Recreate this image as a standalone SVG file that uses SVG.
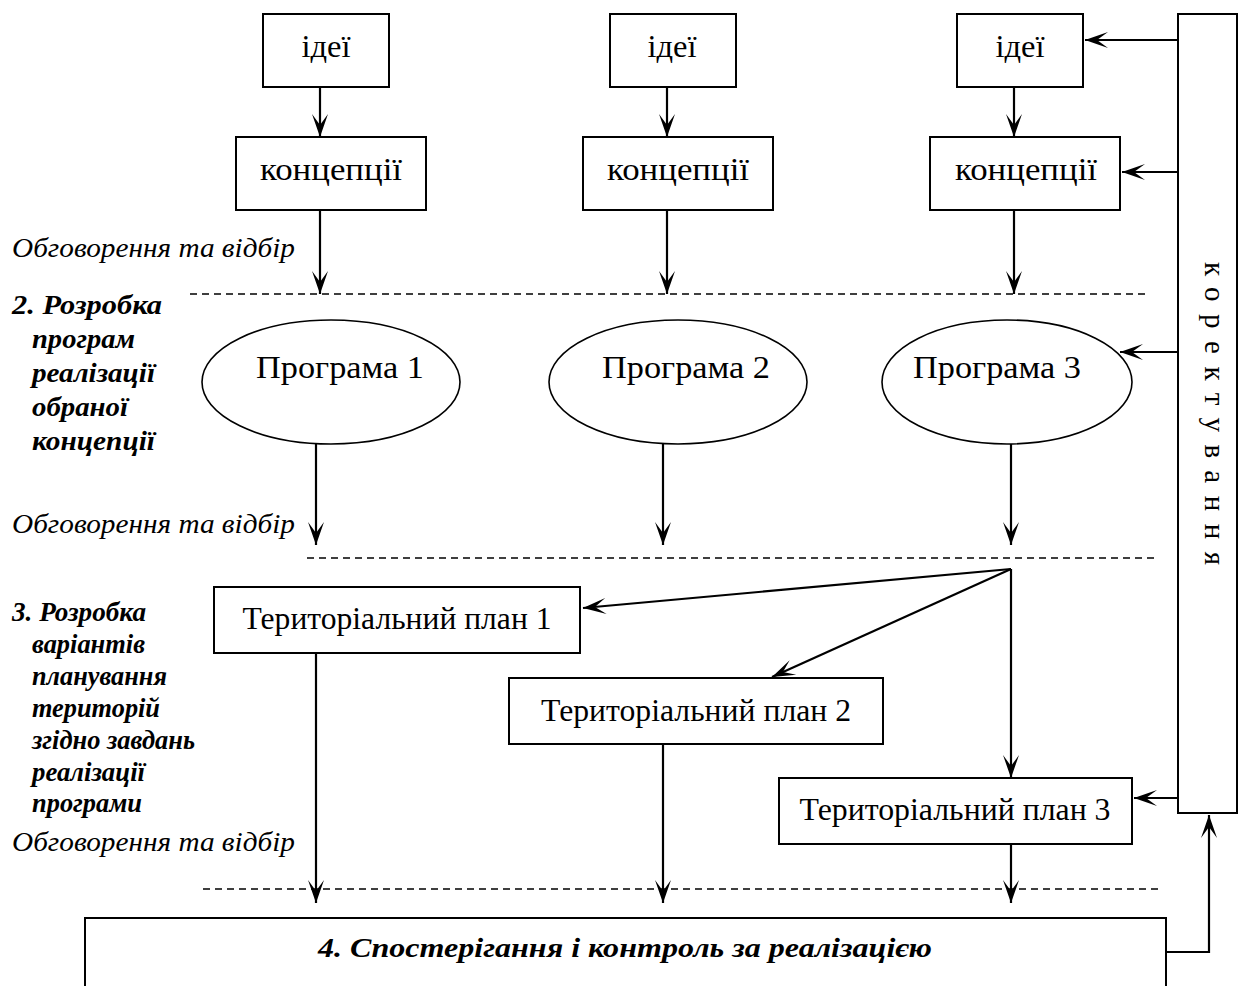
<svg xmlns="http://www.w3.org/2000/svg" width="1243" height="986" viewBox="0 0 1243 986">
<style>
.box{fill:#fff;stroke:#000;stroke-width:2}
.ell{fill:#fff;stroke:#000;stroke-width:1.6}
.t{font-family:"Liberation Serif","Times New Roman",serif;font-size:32px;fill:#000;text-anchor:middle}
.lab{font-family:"Liberation Serif","Times New Roman",serif;font-size:28px;font-style:italic;fill:#000}
.bl{font-family:"Liberation Serif","Times New Roman",serif;font-size:28px;font-style:italic;font-weight:bold;fill:#000}
.bl3{font-size:27px}
.con{fill:none;stroke:#000;stroke-width:2.2;marker-end:url(#ah)}
.dash{fill:none;stroke:#000;stroke-width:1.5;stroke-dasharray:7 5}
</style>
<defs>
<marker id="ah" markerUnits="userSpaceOnUse" viewBox="-24 -9 26 18" refX="0" refY="0" markerWidth="26" markerHeight="18" orient="auto">
<path d="M0,0 L-23,-8 L-12,0 L-23,8 Z" fill="#000"/>
</marker>
</defs>

<g id="labels">
<text class="lab" x="12" y="257" textLength="283" lengthAdjust="spacingAndGlyphs">Обговорення та відбір</text>
<text class="lab" x="12" y="533" textLength="283" lengthAdjust="spacingAndGlyphs">Обговорення та відбір</text>
<text class="lab" x="12" y="851" textLength="283" lengthAdjust="spacingAndGlyphs">Обговорення та відбір</text>
<text class="bl" x="12" y="314" textLength="150" lengthAdjust="spacingAndGlyphs">2. Розробка</text>
<text class="bl" x="32" y="348" textLength="103" lengthAdjust="spacingAndGlyphs">програм</text>
<text class="bl" x="32" y="382" textLength="123" lengthAdjust="spacingAndGlyphs">реалізації</text>
<text class="bl" x="32" y="416" textLength="96" lengthAdjust="spacingAndGlyphs">обраної</text>
<text class="bl" x="32" y="450" textLength="123" lengthAdjust="spacingAndGlyphs">концепції</text>
<text class="bl bl3" x="12" y="621" textLength="134" lengthAdjust="spacingAndGlyphs">3. Розробка</text>
<text class="bl bl3" x="32" y="653" textLength="113" lengthAdjust="spacingAndGlyphs">варіантів</text>
<text class="bl bl3" x="32" y="685" textLength="135" lengthAdjust="spacingAndGlyphs">планування</text>
<text class="bl bl3" x="32" y="717" textLength="128" lengthAdjust="spacingAndGlyphs">територій</text>
<text class="bl bl3" x="32" y="749" textLength="163" lengthAdjust="spacingAndGlyphs">згідно завдань</text>
<text class="bl bl3" x="32" y="781" textLength="113" lengthAdjust="spacingAndGlyphs">реалізації</text>
<text class="bl bl3" x="32" y="812" textLength="110" lengthAdjust="spacingAndGlyphs">програми</text>
</g>

<g id="separators">
<line class="dash" x1="190" y1="294" x2="1150" y2="294"/>
<line class="dash" x1="307" y1="558" x2="1156" y2="558"/>
<line class="dash" x1="203" y1="889" x2="1163" y2="889"/>
</g>

<g id="idei1"><rect class="box" x="263" y="14" width="126" height="73"/><text class="t" x="326" y="57" textLength="49" lengthAdjust="spacingAndGlyphs">ідеї</text></g>
<g id="idei2"><rect class="box" x="610" y="14" width="126" height="73"/><text class="t" x="672" y="57" textLength="49" lengthAdjust="spacingAndGlyphs">ідеї</text></g>
<g id="idei3"><rect class="box" x="957" y="14" width="126" height="73"/><text class="t" x="1020" y="57" textLength="49" lengthAdjust="spacingAndGlyphs">ідеї</text></g>

<g id="konc1"><rect class="box" x="236" y="137" width="190" height="73"/><text class="t" x="331" y="180" textLength="142" lengthAdjust="spacingAndGlyphs">концепції</text></g>
<g id="konc2"><rect class="box" x="583" y="137" width="190" height="73"/><text class="t" x="678" y="180" textLength="142" lengthAdjust="spacingAndGlyphs">концепції</text></g>
<g id="konc3"><rect class="box" x="930" y="137" width="190" height="73"/><text class="t" x="1026" y="180" textLength="142" lengthAdjust="spacingAndGlyphs">концепції</text></g>

<g id="prog1"><ellipse class="ell" cx="331" cy="382" rx="129" ry="62"/><text class="t" x="340" y="378" textLength="168" lengthAdjust="spacingAndGlyphs">Програма 1</text></g>
<g id="prog2"><ellipse class="ell" cx="678" cy="382" rx="129" ry="62"/><text class="t" x="686" y="378" textLength="168" lengthAdjust="spacingAndGlyphs">Програма 2</text></g>
<g id="prog3"><ellipse class="ell" cx="1007" cy="382" rx="125" ry="62"/><text class="t" x="997" y="378" textLength="168" lengthAdjust="spacingAndGlyphs">Програма 3</text></g>

<g id="tp1"><rect class="box" x="214" y="587" width="366" height="66"/><text class="t" x="397" y="629" textLength="309" lengthAdjust="spacingAndGlyphs">Територіальний план 1</text></g>
<g id="tp2"><rect class="box" x="509" y="678" width="374" height="66"/><text class="t" x="696" y="721" textLength="310" lengthAdjust="spacingAndGlyphs">Територіальний план 2</text></g>
<g id="tp3"><rect class="box" x="779" y="778" width="353" height="66"/><text class="t" x="955" y="820" textLength="311" lengthAdjust="spacingAndGlyphs">Територіальний план 3</text></g>

<g id="korektuvannia"><rect class="box" x="1178" y="14" width="59" height="799"/>
<text font-family="Liberation Serif, Times New Roman, serif" font-size="29" letter-spacing="12.5" transform="translate(1205,262) rotate(90)">коректування</text></g>

<g id="monitoring"><rect class="box" x="85" y="918" width="1081" height="100"/>
<text class="bl" x="318" y="957" font-size="30" textLength="614" lengthAdjust="spacingAndGlyphs">4. Спостерігання і контроль за реалізацією</text></g>

<g id="connectors">
<line class="con" x1="320" y1="87" x2="320" y2="137"/>
<line class="con" x1="667" y1="87" x2="667" y2="137"/>
<line class="con" x1="1014" y1="87" x2="1014" y2="137"/>
<line class="con" x1="320" y1="210" x2="320" y2="294"/>
<line class="con" x1="667" y1="210" x2="667" y2="294"/>
<line class="con" x1="1014" y1="210" x2="1014" y2="294"/>
<line class="con" x1="316" y1="444" x2="316" y2="545"/>
<line class="con" x1="663" y1="444" x2="663" y2="545"/>
<line class="con" x1="1011" y1="444" x2="1011" y2="545"/>
<line class="con" x1="1011" y1="569" x2="583" y2="608"/>
<line class="con" x1="1011" y1="569" x2="772" y2="677"/>
<line class="con" x1="1011" y1="569" x2="1011" y2="778"/>
<line class="con" x1="316" y1="653" x2="316" y2="903"/>
<line class="con" x1="663" y1="744" x2="663" y2="903"/>
<line class="con" x1="1011" y1="844" x2="1011" y2="903"/>
<line class="con" x1="1178" y1="40" x2="1085" y2="40"/>
<line class="con" x1="1178" y1="172" x2="1122" y2="172"/>
<line class="con" x1="1178" y1="352" x2="1120" y2="352"/>
<line class="con" x1="1178" y1="798" x2="1134" y2="798"/>
<path class="con" d="M1166,952 H1209 V815"/>
</g>
</svg>
